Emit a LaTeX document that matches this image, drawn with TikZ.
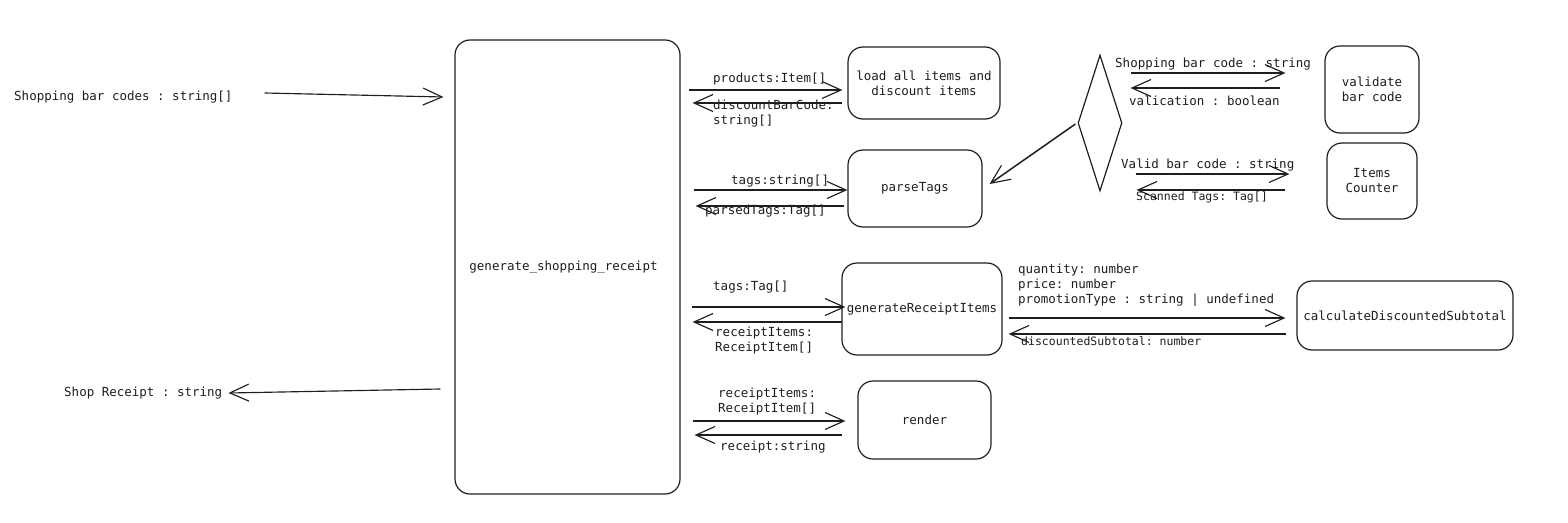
\documentclass[tikz,border=0pt]{standalone}
\usepackage{fontspec}
\setmonofont{DejaVu Sans Mono}
\usetikzlibrary{arrows.meta,calc,shapes.geometric}
\definecolor{ink}{HTML}{1E1E1E}
\begin{document}
\begin{tikzpicture}[x=1pt,y=-1pt,
  every node/.style={text=ink},
  lbl/.style={font=\ttfamily\fontsize{12.5}{15}\selectfont, anchor=west, inner sep=0pt, align=left},
  lbls/.style={font=\ttfamily\fontsize{11.5}{14}\selectfont, anchor=west, inner sep=0pt, align=left},
  box/.style={draw=ink, line width=1.2pt, rounded corners=15pt, inner sep=0pt, align=center,
              font=\ttfamily\fontsize{12.5}{15}\selectfont},
  arr/.style={draw=ink, line width=1.15pt, -{Straight Barb[length=19pt,width=17pt,line width=1.15pt]}}
]
\useasboundingbox (0,0) rectangle (1568,522);

% boxes
\node[box, minimum width=225pt, minimum height=454pt] (main) at (567.5,267) {generate\_shopping\_receipt\hspace*{8pt}};
\node[box, minimum width=152pt, minimum height=72pt] (load) at (924,83) {load all items and\\discount items};
\node[box, minimum width=134pt, minimum height=77pt] (parse) at (915,188.5) {parseTags};
\node[box, minimum width=160pt, minimum height=92pt] (gri) at (922,309) {generateReceiptItems};
\node[box, minimum width=133pt, minimum height=78pt] (render) at (924.5,420) {render};
\node[box, minimum width=216pt, minimum height=69pt] (calc) at (1405,315.5) {calculateDiscountedSubtotal};
\node[box, minimum width=94pt, minimum height=87pt] (val) at (1372,89.5) {validate\\ bar code};
\node[box, minimum width=90pt, minimum height=76pt] (items) at (1372,181) {Items\\Counter};
\node[draw=ink, line width=1.2pt, diamond, inner sep=0pt, minimum width=44pt, minimum height=136pt] (dia) at (1100,123) {};

% labels
\node[lbl] (tsbc) at (14,97) {Shopping bar codes : string[]};
\node[lbl] (tsr) at (64,393) {Shop Receipt : string};
\node[lbl] (tprod) at (713,79) {products:Item[]};
\node[lbl] (tdisc) at (713,113.5) {discountBarCode:\\string[]};
\node[lbl] (ttags1) at (731,181) {tags:string[]};
\node[lbl] (tparsed) at (705,211) {parsedTags:Tag[]};
\node[lbl] (ttags2) at (713,287) {tags:Tag[]};
\node[lbl] (tri1) at (715,341) {receiptItems:\\ReceiptItem[]};
\node[lbl] (tri2) at (718,401.5) {receiptItems:\\ReceiptItem[]};
\node[lbl] (trec) at (720,447) {receipt:string};
\node[lbl] (tcalc) at (1018,285) {quantity: number\\price: number\\promotionType : string | undefined};
\node[lbls] (tdsub) at (1021,341) {discountedSubtotal: number};
\node[lbl] (tsbc2) at (1115,64) {Shopping bar code : string};
\node[lbl] (tval) at (1129,101) {valication : boolean};
\node[lbl] (tvbc) at (1121,165) {Valid bar code : string};
\node[lbls] (tscan) at (1136,197) {Scanned Tags: Tag[]};

% connectors
\draw[arr] ($(tsbc.east|-0,93)+(32,0)$) -- ($(main.west|-0,97)+(-11,0)$);
\draw[arr] ($(main.west|-0,389)+(-14,0)$) -- ($(tsr.east|-0,393)+(6,0)$);

\draw[arr] ($(main.east|-0,90)+(8,0)$) -- ($(load.west|-0,90)+(-5,0)$);
\draw[arr] ($(load.west|-0,103)+(-5,0)$) -- ($(main.east|-0,103)+(12,0)$);
\draw[arr] ($(main.east|-0,190)+(13,0)$) -- ($(parse.west|-0,190)+(0,0)$);
\draw[arr] ($(parse.west|-0,206)+(-3,0)$) -- ($(main.east|-0,206)+(15,0)$);
\draw[arr] ($(main.east|-0,307)+(11,0)$) -- ($(gri.west|-0,307)+(4,0)$);
\draw[arr] ($(gri.west|-0,322)+(1,0)$) -- ($(main.east|-0,322)+(12,0)$);
\draw[arr] ($(main.east|-0,421)+(12,0)$) -- ($(render.west|-0,421)+(-12,0)$);
\draw[arr] ($(render.west|-0,435)+(-15,0)$) -- ($(main.east|-0,435)+(14,0)$);

\draw[arr] ($(gri.east|-0,318)+(6,0)$) -- ($(calc.west|-0,318)+(-11,0)$);
\draw[arr] ($(calc.west|-0,334)+(-10,0)$) -- ($(gri.east|-0,334)+(6,0)$);

\draw[arr] ($(dia.east|-0,73)+(8,0)$) -- ($(val.west|-0,73)+(-39,0)$);
\draw[arr] ($(val.west|-0,88)+(-44,0)$) -- ($(dia.east|-0,88)+(8,0)$);
\draw[arr] ($(dia.east|-0,174)+(13,0)$) -- ($(items.west|-0,174)+(-37,0)$);
\draw[arr] ($(items.west|-0,190)+(-41,0)$) -- ($(dia.east|-0,190)+(14,0)$);

\draw[arr, line width=1.5pt] ($(dia.west)+(-2,1)$) -- ($(parse.east|-0,184)+(7,0)$);
\end{tikzpicture}
\end{document}
